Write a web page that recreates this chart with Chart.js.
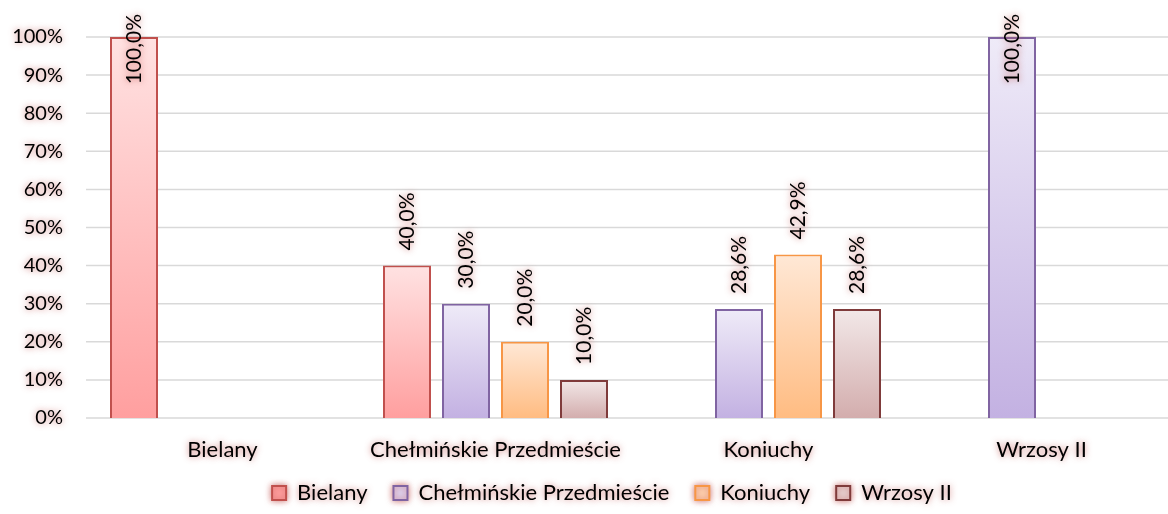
<!DOCTYPE html>
<html lang="pl">
<head>
    <meta charset="UTF-8">
    <title>Udział procentowy - osiedla</title>
    <script src="https://cdn.jsdelivr.net/npm/chart.js"></script>
    <style>
        html, body {
            margin: 0;
            padding: 0;
            background: #ffffff;
            overflow: hidden;
        }
    </style>
</head>
<body>
    <canvas id="chart" width="1216" height="514"></canvas>

    <script>
        // Data
        const categories = ['Bielany', 'Chełmińskie Przedmieście', 'Koniuchy', 'Wrzosy II'];
        const seriesNames = ['Bielany', 'Chełmińskie Przedmieście', 'Koniuchy', 'Wrzosy II'];
        const bielanyValues = [100, 40, null, null];
        const chelminskieValues = [null, 30, 28.6, 100];
        const koniuchyValues = [null, 20, 42.9, null];
        const wrzosyValues = [null, 10, 28.6, null];
        const yTickValues = [0, 10, 20, 30, 40, 50, 60, 70, 80, 90, 100];

        // Styles (Excel-like gradients per bar)
        const borderColors = ['#C0504D', '#8064A2', '#F79646', '#7F3B3B'];
        const topColors = ['#FFE2E2', '#EFEBF8', '#FFE8D6', '#F2E8E8'];
        const bottomColors = ['#FF9F9F', '#C3B1E2', '#FFBC82', '#D3ADAD'];
        const legendColors = ['#FFCACA', '#DDD3F0', '#FFD3B0', '#E6D2D2'];

        const FONT = 'Lato';
        const GLOW = 'rgba(192, 80, 77, 0.75)';

        Chart.defaults.font.family = FONT;
        Chart.defaults.font.size = 20;
        Chart.defaults.color = '#000000';

        function barFill(idx) {
            return (ctx) => {
                if (ctx.type !== 'data' || ctx.raw == null) return legendColors[idx];
                const chart = ctx.chart;
                const y = chart.scales.y;
                if (!y) return legendColors[idx];
                const top = y.getPixelForValue(ctx.raw);
                const bottom = y.getPixelForValue(0);
                if (!isFinite(top) || !isFinite(bottom) || top === bottom) return legendColors[idx];
                const g = chart.ctx.createLinearGradient(0, top, 0, bottom);
                g.addColorStop(0, topColors[idx]);
                g.addColorStop(1, bottomColors[idx]);
                return g;
            };
        }

        const seriesValues = [bielanyValues, chelminskieValues, koniuchyValues, wrzosyValues];

        const datasets = seriesNames.map((name, i) => ({
            label: name,
            data: seriesValues[i],
            backgroundColor: barFill(i),
            borderColor: borderColors[i],
            borderWidth: 2,
            categoryPercentage: 0.8645,
            barPercentage: 0.8136
        }));

        function setGlow(ctx) {
            ctx.shadowColor = GLOW;
            ctx.shadowBlur = 6;
            ctx.shadowOffsetX = 0;
            ctx.shadowOffsetY = 0;
        }

        function clearGlow(ctx) {
            ctx.shadowColor = 'rgba(0,0,0,0)';
            ctx.shadowBlur = 0;
        }

        // grid lines without glow, glow on texts, plain bars
        const excelLook = {
            id: 'excelLook',
            afterLayout(chart) {
                // legend centred a bit left of the plot centre, like the original
                const lg = chart.legend;
                if (lg) {
                    lg.left = 46;
                    lg.width = lg.right - lg.left;
                }
            },
            beforeDraw(chart) {
                const ctx = chart.ctx;
                const y = chart.scales.y;
                const area = chart.chartArea;
                ctx.save();
                ctx.strokeStyle = '#D9D9D9';
                ctx.lineWidth = 1.5;
                y.ticks.forEach(t => {
                    const py = y.getPixelForValue(t.value);
                    ctx.beginPath();
                    ctx.moveTo(area.left, py);
                    ctx.lineTo(area.right, py);
                    ctx.stroke();
                });
                ctx.restore();
                setGlow(ctx);
            },
            beforeDatasetsDraw(chart) {
                clearGlow(chart.ctx);
            },
            afterDatasetsDraw(chart) {
                const ctx = chart.ctx;
                setGlow(ctx);
                ctx.save();
                ctx.font = '21px ' + FONT;
                ctx.fillStyle = '#000000';
                ctx.textAlign = 'left';
                ctx.textBaseline = 'middle';
                chart.data.datasets.forEach((ds, di) => {
                    const meta = chart.getDatasetMeta(di);
                    meta.data.forEach((bar, i) => {
                        const v = ds.data[i];
                        if (v == null) return;
                        const text = v.toFixed(1).replace('.', ',') + '%';
                        const w = ctx.measureText(text).width;
                        let start = bar.y - 15;
                        if (start - w < 14) start = 14 + w;
                        ctx.save();
                        ctx.translate(bar.x, start);
                        ctx.rotate(-Math.PI / 2);
                        ctx.fillText(text, 0, 0);
                        ctx.restore();
                    });
                });
                ctx.restore();
            },
            afterDraw(chart) {
                clearGlow(chart.ctx);
            }
        };

        new Chart(document.getElementById('chart'), {
            type: 'bar',
            data: {
                labels: categories,
                datasets: datasets
            },
            options: {
                responsive: false,
                animation: false,
                devicePixelRatio: 1,
                layout: {
                    padding: { top: 37, right: 38, left: 0, bottom: 0 }
                },
                scales: {
                    x: {
                        grid: { display: false, drawTicks: false },
                        border: { display: false },
                        ticks: {
                            // mirror + negative padding: labels sit below the axis but are not clipped by the short scale box
                            mirror: true,
                            padding: -45,
                            autoSkip: false,
                            maxRotation: 0,
                            font: { size: 22 }
                        },
                        afterFit(scale) { scale.height = 38; }
                    },
                    y: {
                        min: 0,
                        max: 100,
                        afterBuildTicks(scale) {
                            scale.ticks = yTickValues.map(v => ({ value: v }));
                        },
                        grid: { display: false, drawTicks: false },
                        border: { display: false },
                        ticks: {
                            padding: 23,
                            font: { size: 20 },
                            callback: (v) => v + '%'
                        },
                        afterFit(scale) { scale.width = 86; }
                    }
                },
                plugins: {
                    legend: {
                        position: 'bottom',
                        fullSize: false,
                        labels: {
                            boxWidth: 14,
                            boxHeight: 14,
                            padding: 26,
                            font: { size: 22 },
                            color: '#000000'
                        }
                    },
                    tooltip: { enabled: false }
                }
            },
            plugins: [excelLook]
        });
    </script>
</body>
</html>
